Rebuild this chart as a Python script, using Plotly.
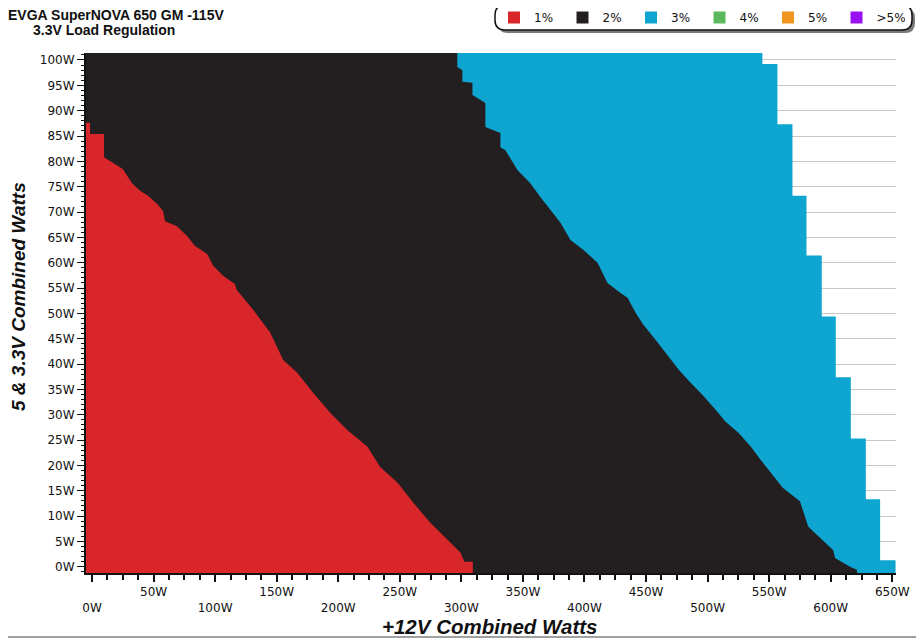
import plotly.graph_objects as go

# ---------------- data ----------------
# Boundary between the 1% (red) and 2% (black) zones: 5&3.3V watts vs +12V watts
red_edge_y = [87.6, 85.4, 85.4, 80.8, 79.7, 78.5, 75.7, 74.2, 73.2, 71.6, 70.2, 68.2, 67.2,
              65.3, 63.3, 61.7, 59.4, 57.4, 55.8, 54.6, 53.1, 50.7, 46.2, 40.8, 38.3, 34.3,
              30.4, 27.0, 23.7, 19.7, 16.6, 12.6, 8.7, 5.3, 2.8, 1.0, 1.0, -1.24]
red_edge_x = [-1.6, -1.6, 9.8, 9.8, 17, 25, 32.5, 39, 45.5, 53, 57.7, 59.3, 69,
              77, 83.7, 93.5, 98.4, 106.5, 116, 117.6, 122.8, 130.9, 144.7, 155.3, 166.7, 179.7,
              193.5, 207.3, 223.6, 234.1, 248, 261, 274.8, 288.6, 299.2, 302.5, 309.3, 309.3]

# Boundary between the 2% (black) and 3% (blue) zones
black_edge_y = [101.38, 98.6, 98.0, 95.7, 95.5, 93.1, 91.5, 86.8, 85.6, 82.8, 82.2, 78.3,
                75.7, 73.0, 70.4, 67.9, 64.5, 62.5, 60.0, 56.0, 54.0, 53.1, 50.1, 47.7,
                44.8, 41.8, 38.9, 36.3, 33.9, 31.0, 28.6, 26.4, 23.7, 21.1, 18.5, 15.6,
                12.9, 9.9, 8.0, 7.0, 5.7, 4.7, 3.3, 1.7, 0.9, 0.0, -0.6, -1.24]
black_edge_x = [296.7, 296.7, 300.8, 300.8, 309, 309, 319.5, 319.5, 331.7, 331.7, 335.8, 345.5,
                356, 364, 372.4, 380.5, 388.6, 399.2, 410.6, 418.7, 429.3, 435, 441.5, 448,
                457.7, 467.5, 476.4, 486.2, 495.9, 506.5, 514.6, 525.2, 535, 543, 551.2, 561,
                575, 579, 581.6, 585.6, 591.3, 595.4, 601.9, 603.5, 609.2, 615.6, 621.3, 621.3]

# Outer limit of the tested area (3% zone, blue), as horizontal bands
blue_band_lo = [-1.24, 1.3, 13.3, 25.3, 37.4, 49.4, 61.4, 73.2, 87.3, 99.2]
blue_band_hi = [1.3, 13.3, 25.3, 37.4, 49.4, 61.4, 73.2, 87.3, 99.2, 101.38]
blue_edge_x = [652.6, 640.1, 628.5, 616.3, 604.1, 592.7, 580.3, 568.9, 556.7, 544.5]

legend_names = ["1%", "2%", "3%", "4%", "5%", ">5%"]
legend_colors = ["#d8262b", "#231f20", "#0ea5d1", "#5cb85c", "#f0961f", "#9b10f2"]

x_tick_vals = list(range(0, 651, 50))
x_tick_text = [("<br>%dW" % v) if (v // 50) % 2 == 0 else ("%dW" % v) for v in x_tick_vals]
y_tick_vals = list(range(0, 101, 5))
y_tick_text = ["%dW" % v for v in y_tick_vals]

X_RANGE = [-4.87, 653.0]
Y_RANGE = [-1.24, 101.38]

# ---------------- figure ----------------
OFF = 8                      # page body margin of the browser
W, H = 924 - OFF, 639 - OFF
ML, MR, MT, MB = 86 - OFF, 28, 53 - OFF, 66
PW, PH = W - ML - MR, H - MT - MB

fig = go.Figure()

xmin = X_RANGE[0]
# blue area (3%)
bx, by = [xmin], [blue_band_lo[0]]
for lo, hi, ex in zip(blue_band_lo, blue_band_hi, blue_edge_x):
    bx += [ex, ex]
    by += [lo, hi]
bx += [xmin]
by += [blue_band_hi[-1]]
fig.add_trace(go.Scatter(x=bx, y=by, fill="toself", mode="lines", line=dict(width=0),
                         fillcolor=legend_colors[2], showlegend=False, hoverinfo="skip"))
# black area (2%)
fig.add_trace(go.Scatter(x=[xmin] + black_edge_x + [xmin],
                         y=[black_edge_y[0]] + black_edge_y + [black_edge_y[-1]],
                         fill="toself", mode="lines", line=dict(width=0),
                         fillcolor=legend_colors[1], showlegend=False, hoverinfo="skip"))
# red area (1%)
fig.add_trace(go.Scatter(x=[xmin] + red_edge_x + [xmin],
                         y=[red_edge_y[0]] + red_edge_y + [red_edge_y[-1]],
                         fill="toself", mode="lines", line=dict(width=0),
                         fillcolor=legend_colors[0], showlegend=False, hoverinfo="skip"))

for name, col in zip(legend_names, legend_colors):
    fig.add_trace(go.Scatter(x=[None], y=[None], mode="markers", name=name,
                             marker=dict(symbol="square", size=12, color=col)))

# helpers: page pixel (as in the reference) -> paper coordinates
def px2x(px):
    return (px - OFF - ML) / PW

def px2y(py):
    return (H - MB - (py - OFF)) / PH

def rounded(x0, y0, x1, y1, r):
    X0, X1 = px2x(x0), px2x(x1)
    Y0, Y1 = px2y(y0), px2y(y1)
    rx, ry = r / PW, r / PH
    return (f"M {X0+rx},{Y0} L {X1-rx},{Y0} Q {X1},{Y0} {X1},{Y0-ry} "
            f"L {X1},{Y1+ry} Q {X1},{Y1} {X1-rx},{Y1} L {X0+rx},{Y1} "
            f"Q {X0},{Y1} {X0},{Y1+ry} L {X0},{Y0-ry} Q {X0},{Y0} {X0+rx},{Y0} Z")

shapes = [
    dict(type="path", xref="paper", yref="paper", path=rounded(498, 8, 915, 33, 10),
         fillcolor="#7a7a7a", line=dict(width=0), layer="above"),
    dict(type="path", xref="paper", yref="paper", path=rounded(495, 5, 912, 30, 10),
         fillcolor="white", line=dict(color="#111", width=1.5), layer="above"),
    dict(type="line", xref="paper", yref="paper", x0=px2x(921), x1=px2x(921),
         y0=px2y(638), y1=px2y(OFF), line=dict(color="#444", width=1.2), layer="above"),
    dict(type="line", xref="paper", yref="paper", x0=px2x(OFF), x1=px2x(921.5),
         y0=px2y(637), y1=px2y(637), line=dict(color="#444", width=1.2), layer="above"),
]

annotations = [
    dict(text="<b>EVGA SuperNOVA 650 GM -115V</b>", x=px2x(6), y=px2y(14.5),
         xref="paper", yref="paper", xanchor="left", yanchor="middle", showarrow=False,
         font=dict(family="Liberation Sans", size=14, color="#111")),
    dict(text="<b>3.3V Load Regulation</b>", x=px2x(31), y=px2y(30),
         xref="paper", yref="paper", xanchor="left", yanchor="middle", showarrow=False,
         font=dict(family="Liberation Sans", size=14, color="#111")),
    dict(text="<b><i>+12V Combined Watts</i></b>", x=px2x(490), y=px2y(626),
         xref="paper", yref="paper", xanchor="center", yanchor="middle", showarrow=False,
         font=dict(family="Liberation Sans", size=20.5, color="#111")),
    dict(text="<b><i>5 &amp; 3.3V Combined Watts</i></b>", x=px2x(18), y=px2y(297),
         xref="paper", yref="paper", xanchor="center", yanchor="middle", showarrow=False,
         textangle=-90, font=dict(family="Liberation Sans", size=19, color="#111")),
]

fig.update_layout(
    width=W, height=H,
    margin=dict(l=ML, r=MR, t=MT, b=MB, pad=0, autoexpand=False),
    paper_bgcolor="white", plot_bgcolor="white",
    font=dict(family="DejaVu Sans", size=12, color="#111"),
    showlegend=True,
    legend=dict(orientation="h", x=px2x(494), y=px2y(17.5), xanchor="left", yanchor="middle",
                bgcolor="rgba(0,0,0,0)", borderwidth=0, entrywidth=23.5,
                font=dict(family="DejaVu Sans", size=12, color="#111"),
                itemclick=False, itemdoubleclick=False),
    shapes=shapes,
    annotations=annotations,
    xaxis=dict(range=X_RANGE, tickmode="array", tickvals=x_tick_vals, ticktext=x_tick_text,
               ticks="outside", ticklen=7, tickwidth=1.5, tickcolor="#111",
               showline=True, linewidth=2, linecolor="#111", showgrid=False, zeroline=False,
               tickfont=dict(family="DejaVu Sans", size=12, color="#111"),
               minor=dict(dtick=12.5, tick0=0, ticks="outside", ticklen=5, tickwidth=1.5,
                          tickcolor="#111", showgrid=False),
               fixedrange=True),
    yaxis=dict(range=Y_RANGE, tickmode="array", tickvals=y_tick_vals, ticktext=y_tick_text,
               ticks="outside", ticklen=7, tickwidth=1, tickcolor="#111",
               showline=True, linewidth=2, linecolor="#111",
               showgrid=True, gridcolor="#c8c8c8", gridwidth=1, zeroline=False,
               tickfont=dict(family="DejaVu Sans", size=12, color="#111"),
               minor=dict(dtick=1, tick0=0, ticks="outside", ticklen=3, tickwidth=1,
                          tickcolor="#111", showgrid=False),
               fixedrange=True),
)

fig.write_html("out.html")
